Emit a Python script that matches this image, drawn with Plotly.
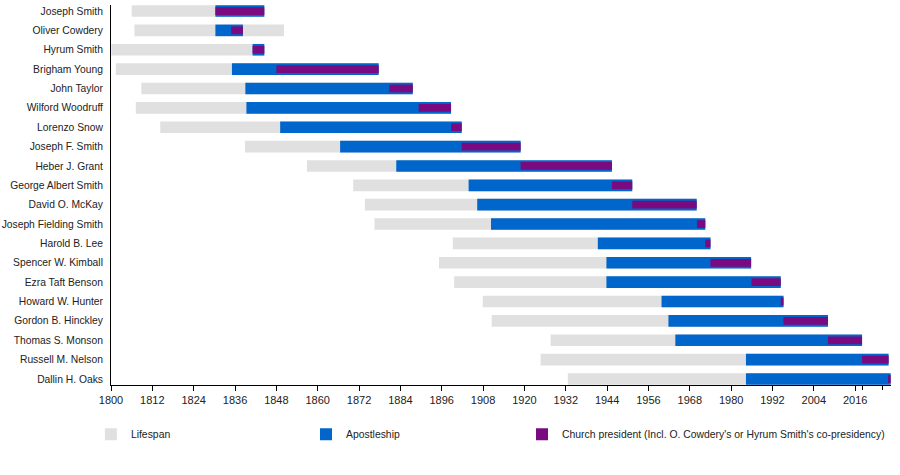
import plotly.graph_objects as go

# leaders, top to bottom
names = ["Joseph Smith", "Oliver Cowdery", "Hyrum Smith", "Brigham Young", "John Taylor",
         "Wilford Woodruff", "Lorenzo Snow", "Joseph F. Smith", "Heber J. Grant",
         "George Albert Smith", "David O. McKay", "Joseph Fielding Smith", "Harold B. Lee",
         "Spencer W. Kimball", "Ezra Taft Benson", "Howard W. Hunter", "Gordon B. Hinckley",
         "Thomas S. Monson", "Russell M. Nelson", "Dallin H. Oaks"]

born = [1806.0, 1806.8, 1800.1, 1801.4, 1808.8, 1807.2, 1814.3, 1838.9, 1856.9, 1870.3,
        1873.7, 1876.5, 1899.2, 1895.2, 1899.6, 1907.9, 1910.5, 1927.6, 1924.7, 1932.6]
died = [1844.5, 1850.2, 1844.5, 1877.7, 1887.6, 1898.7, 1901.8, 1918.9, 1945.4, 1951.3,
        1970.0, 1972.5, 1974.0, 1985.8, 1994.4, 1995.2, 2008.1, 2018.0, 2025.7, 2026.3]
apostle_start = [1830.3, 1830.3, 1841.1, 1835.1, 1839.0, 1839.3, 1849.1, 1866.5, 1882.8, 1903.8,
                 1906.3, 1910.3, 1941.3, 1943.8, 1943.8, 1959.8, 1961.8, 1963.8, 1984.3, 1984.3]
apostle_end = [1844.5, 1838.3, 1844.5, 1877.7, 1887.6, 1898.7, 1901.8, 1918.9, 1945.4, 1951.3,
               1970.0, 1972.5, 1974.0, 1985.8, 1994.4, 1995.2, 2008.1, 2018.0, 2025.7, 2026.3]
pres_start = [1830.3, 1834.9, 1841.1, 1848.0, 1880.8, 1889.3, 1898.7, 1901.8, 1918.9, 1945.4,
              1951.3, 1970.1, 1972.5, 1974.0, 1985.9, 1994.4, 1995.2, 2008.1, 2018.0, 2025.8]
pres_end = [1844.5, 1838.3, 1844.5, 1877.7, 1887.6, 1898.7, 1901.8, 1918.9, 1945.4, 1951.3,
            1970.0, 1972.5, 1974.0, 1985.8, 1994.4, 1995.2, 2008.1, 2018.0, 2025.7, 2026.3]

year_ticks = list(range(1800, 2017, 12))

font = "Liberation Sans"

fig = go.Figure()
fig.add_trace(go.Bar(y=names, base=born, x=[d - b for b, d in zip(born, died)],
                     orientation="h", width=0.6, marker=dict(color="#e0e0e0", line_width=0),
                     name="Lifespan", legend="legend"))
fig.add_trace(go.Bar(y=names, base=apostle_start, x=[e - s for s, e in zip(apostle_start, apostle_end)],
                     orientation="h", width=0.6, marker=dict(color="#0066cc", line_width=0),
                     name="Apostleship", legend="legend2"))
fig.add_trace(go.Bar(y=names, base=pres_start, x=[e - s for s, e in zip(pres_start, pres_end)],
                     orientation="h", width=0.4, marker=dict(color="#7a0a80", line_width=0),
                     name="Church president (Incl. O. Cowdery's or Hyrum Smith's co-presidency)",
                     legend="legend3"))

# three separate legends so each entry sits at its own spot
leg = dict(orientation="h", xanchor="left", xref="container",
           y=0.086, yanchor="middle", yref="container", itemwidth=30,
           font=dict(family=font, size=10.4))

fig.update_layout(
    barmode="overlay",
    width=900, height=475,
    margin=dict(l=111, r=9, t=5, b=90, autoexpand=False),
    plot_bgcolor="white", paper_bgcolor="white",
    font=dict(family=font, size=10.3, color="#222"),
    showlegend=True,
    legend=dict(leg, x=0.101),
    legend2=dict(leg, x=0.340),
    legend3=dict(leg, x=0.580),
)
fig.update_xaxes(range=[1800, 2026.4], tickvals=year_ticks, ticks="outside", ticklen=5,
                 tickcolor="black", showline=True, linecolor="black", linewidth=1,
                 showgrid=False, zeroline=False, automargin=False, tickfont=dict(size=11),
                 minor=dict(tickvals=[2018, 2024], ticks="outside", ticklen=4, tickcolor="black"))
fig.update_yaxes(categoryorder="array", categoryarray=names, range=[19.31, -0.31],
                 showline=True, linecolor="black", linewidth=1, showgrid=False,
                 ticks="", ticklabelstandoff=5, automargin=False, tickfont=dict(size=10.3))

fig.write_html("out.html", config={"displayModeBar": False},
               post_script="document.body.style.margin='0';")
